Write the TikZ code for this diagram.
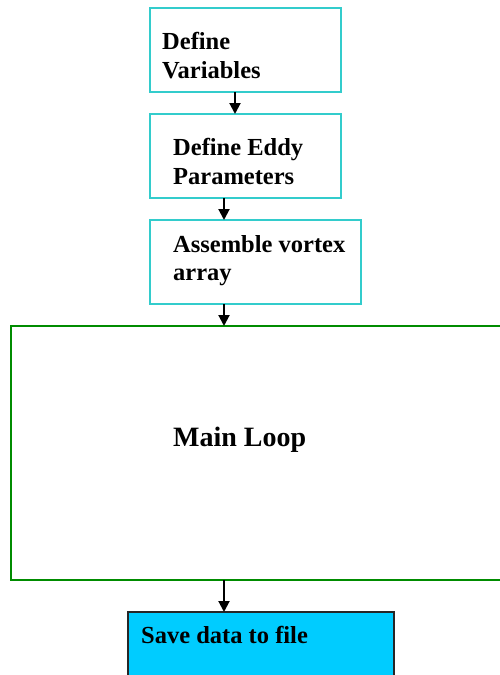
\documentclass[tikz,border=0pt]{standalone}
\usepackage{fontspec}
\setmainfont{Liberation Serif}
\usetikzlibrary{arrows.meta}
\definecolor{boxcyan}{RGB}{51,204,204}
\definecolor{loopgreen}{RGB}{0,140,0}
\definecolor{savefill}{RGB}{0,204,255}
\begin{document}
\begin{tikzpicture}[x=1pt,y=-1pt,
  stepbox/.style={draw=boxcyan,line width=2pt,rectangle,anchor=north west,inner sep=0pt,outer sep=0pt},
  loopbox/.style={draw=loopgreen,line width=1.6pt,rectangle,anchor=north west,inner sep=0pt,outer sep=0pt},
  savebox/.style={draw=black!85,fill=savefill,line width=1.2pt,rectangle,anchor=north west,inner sep=0pt,outer sep=0pt},
  lbl/.style={anchor=base west,inner sep=0pt,font=\fontsize{24.5}{29}\selectfont\bfseries},
  biglbl/.style={anchor=base west,inner sep=0pt,font=\fontsize{28}{33}\selectfont\bfseries},
  arr/.style={draw=black,line width=2pt,-{Triangle[length=11pt,width=11pt]}}]
\clip (0,0) rectangle (500,675);
\fill[white] (0,0) rectangle (500,675);
% boxes
\node[stepbox,minimum width=191pt,minimum height=84pt] (b1) at (150,8) {};
\node[stepbox,minimum width=191pt,minimum height=84pt] (b2) at (150,114) {};
\node[stepbox,minimum width=211pt,minimum height=84pt] (b3) at (150,220) {};
\node[loopbox,minimum width=520pt,minimum height=254pt] (loop) at (11,326) {};
\node[savebox,minimum width=266pt,minimum height=90pt] (save) at (128,612) {};
% labels
\node[lbl] (t1a) at (162,49) {Define};
\node[lbl] (t1b) at (162,78) {Variables};
\node[lbl] (t2a) at (173,155) {Define Eddy};
\node[lbl] (t2b) at (173,184) {Parameters};
\node[lbl] (t3a) at (173,252) {Assemble vortex};
\node[lbl] (t3b) at (173,280) {array};
\node[biglbl] (tl) at (173,446) {Main Loop};
\node[lbl] (ts) at (141,643) {Save data to file};
% connectors
\coordinate (xa) at (235,0);
\coordinate (xb) at (224,0);
\draw[arr] (b1.south -| xa) -- (b2.north -| xa);
\draw[arr] (b2.south -| xb) -- (b3.north -| xb);
\draw[arr] (b3.south -| xb) -- (loop.north -| xb);
\draw[arr] (loop.south -| xb) -- (save.north -| xb);
\end{tikzpicture}
\end{document}
